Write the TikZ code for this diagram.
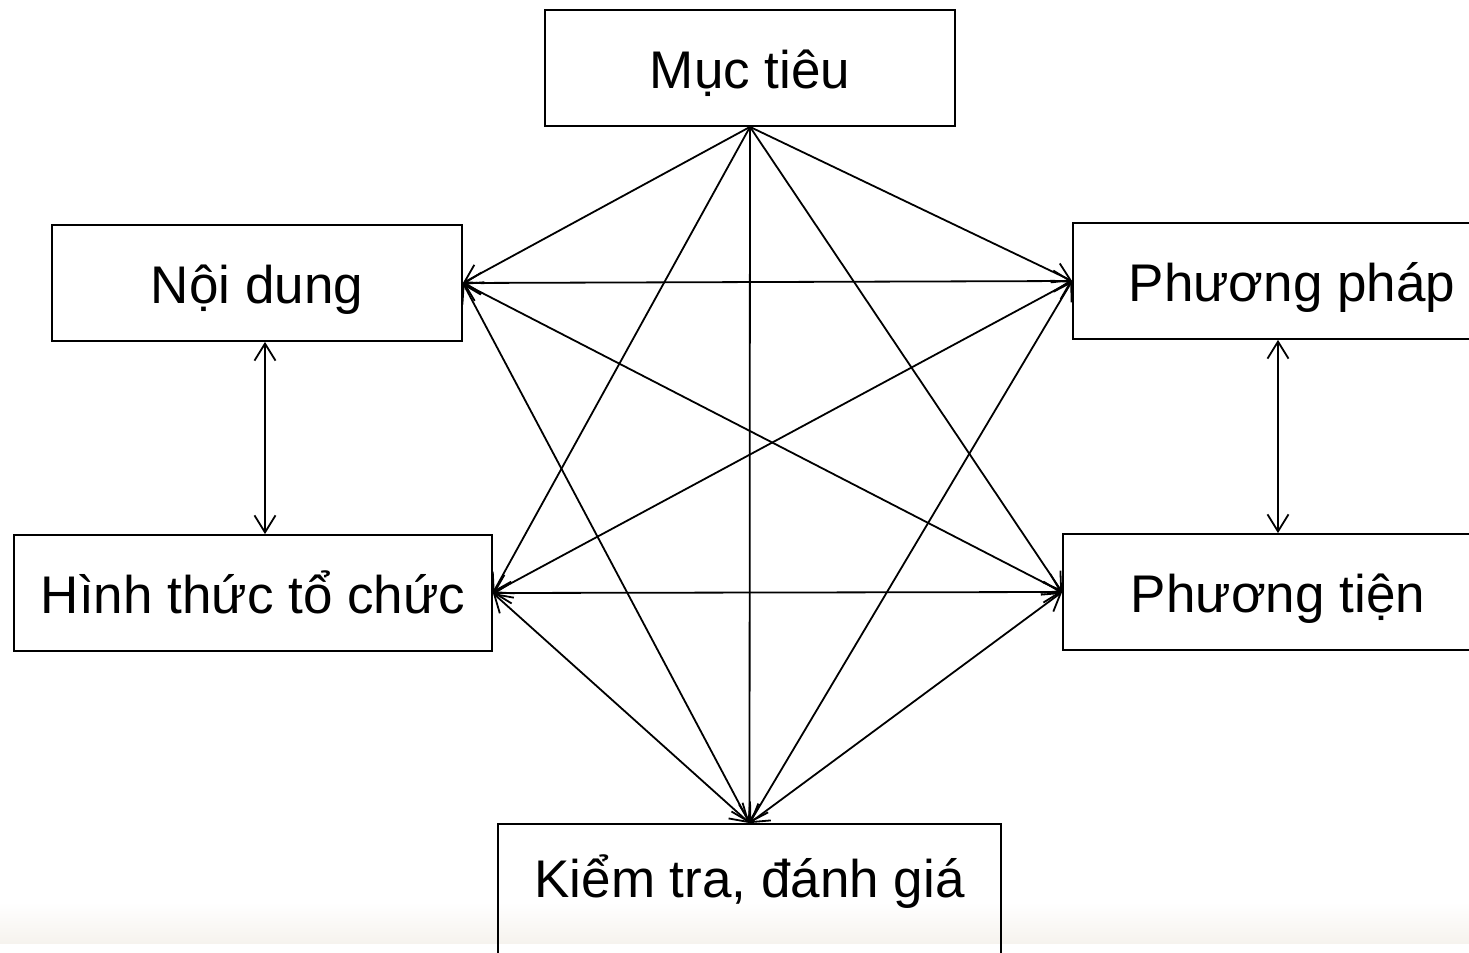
\documentclass[tikz,border=0pt]{standalone}
\usepackage{fontspec}
\setmainfont{Liberation Sans}
\usetikzlibrary{arrows.meta}
\tikzset{
  box/.style={draw, line width=0.9pt, rectangle, minimum height=58pt,
    inner sep=0pt, text height=24pt, text depth=4pt,
    font=\fontsize{26.5pt}{32pt}\selectfont},
  link/.style={line width=0.9pt},
}
\begin{document}
\begin{tikzpicture}[x=0.5pt, y=-0.5pt,
    >={Straight Barb[length=8.5pt,width=10.5pt]}]
  \useasboundingbox (0,0) rectangle (1469,953);
  \clip (0,0) rectangle (1469,953);
  % slide background band
  \shade[top color=white, bottom color={rgb,255:red,246;green,243;blue,238}]
    (0,902) rectangle (1469,943);
  \draw
    (750,68) node[box, minimum width=205pt] (mt) {Mục tiêu}
    (257,283) node[box, minimum width=205pt] (nd) {Nội dung}
    (1292,281) node[box, minimum width=219pt] (pp) {Phương pháp}
    (253,593) node[box, minimum width=239pt] (ht) {Hình thức tổ chức}
    (1278,592) node[box, minimum width=215pt] (pt) {Phương tiện}
    (749.5,909) node[box, minimum width=251.5pt, minimum height=85pt,
      text height=20pt, text depth=32pt] (kt) {Kiểm tra, đánh giá};
  \begin{scope}[link, ->]
    \draw (mt.south) to (nd.east);
    \draw (mt.south) to (pp.west);
    \draw (mt.south) to (ht.east);
    \draw (mt.south) to (pt.west);
    \draw (mt.south) to (kt.north);
  \end{scope}
  \begin{scope}[link, <->]
    \draw (nd.east) to (pp.west);
    \draw (nd.east) to (pt.west);
    \draw (nd.east) to (kt.north);
    \draw (pp.west) to (ht.east);
    \draw (pp.west) to (kt.north);
    \draw (ht.east) to (pt.west);
    \draw (ht.east) to (kt.north);
    \draw (pt.west) to (kt.north);
    \draw ([xshift=4pt]nd.south) to ([xshift=4pt]nd.south |- ht.north);
    \draw ([xshift=-7pt]pp.south) to ([xshift=-7pt]pp.south |- pt.north);
  \end{scope}
\end{tikzpicture}
\end{document}
